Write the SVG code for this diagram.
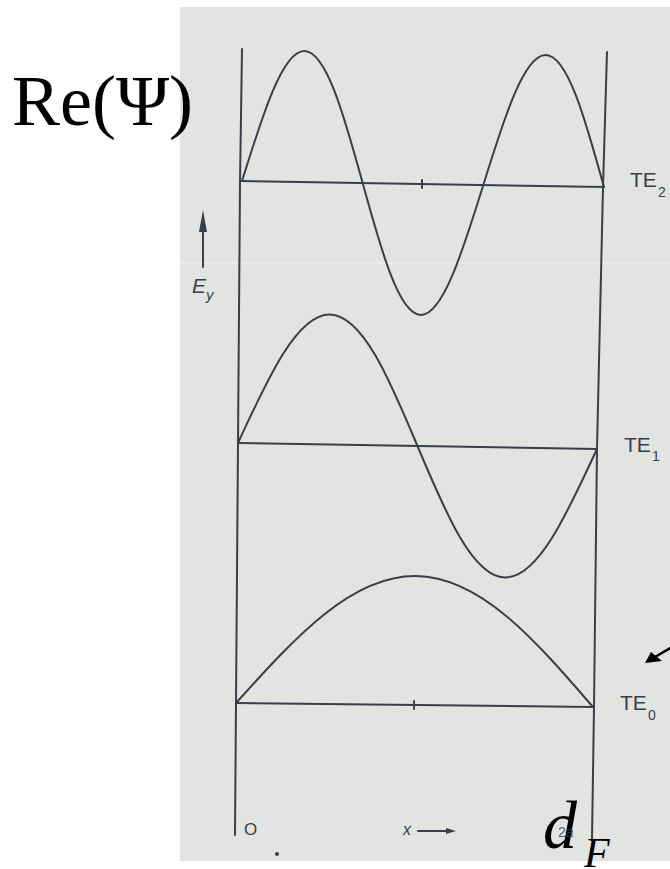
<svg xmlns="http://www.w3.org/2000/svg" width="670" height="869" viewBox="0 0 670 869">
<style>
.ln{fill:none;stroke:#3b3d48;stroke-width:2;stroke-linecap:round;stroke-linejoin:round}
.lb{font-family:"Liberation Sans",Arial,sans-serif;fill:#3b3d48}
.tm{font-family:"Liberation Serif","Times New Roman",serif;fill:#000}
</style>
<rect width="670" height="869" fill="#ffffff"/>
<rect x="180" y="7" width="490" height="854" fill="#e2e4e1"/>
<line x1="180" y1="263" x2="670" y2="263" stroke="#f3f4f2" stroke-width="1"/>
<g id="walls">
<polyline class="ln" points="242,49 240,183 238,443 236,703 235,835"/>
<polyline class="ln" points="607,52 603,187 597,449 594,707 592,840"/>
</g>
<g id="te2">
<line class="ln" x1="242" y1="181" x2="604" y2="187"/>
<line class="ln" x1="422" y1="180" x2="422" y2="188"/>
<path class="ln" transform="translate(242,181) rotate(0.95)" d="M0,0 C19.67,-67.11 38.5,-131 60.33,-131 C82.16,-131 101,-67.11 120.67,0 C140.34,67.11 159.17,131 181,131 C202.83,131 221.67,67.11 241.33,0 C261,-67.11 279.84,-131 301.67,-131 C323.5,-131 342.33,-67.11 362,0"/>
<text class="lb" x="630" y="187" font-size="21">TE<tspan font-size="14" x="658" y="197">2</tspan></text>
</g>
<g id="te1">
<line class="ln" x1="238" y1="443" x2="597" y2="449"/>
<path class="ln" transform="translate(238,443) rotate(0.96)" d="M0,0 C29.27,-66.6 57.27,-130 89.75,-130 C122.23,-130 150.23,-66.6 179.5,0 C208.77,66.6 236.77,130 269.25,130 C301.73,130 329.73,66.6 359,0"/>
<text class="lb" x="624" y="452" font-size="21">TE<tspan font-size="14" x="652" y="461">1</tspan></text>
</g>
<g id="te0">
<line class="ln" x1="236" y1="703" x2="593" y2="707"/>
<line class="ln" x1="414" y1="701" x2="414" y2="709"/>
<path class="ln" transform="translate(236,703) rotate(0.64)" d="M0,0 C58.21,-66.09 113.9,-129 178.5,-129 C243.1,-129 298.79,-66.09 357,0"/>
<text class="lb" x="620" y="710" font-size="21">TE<tspan font-size="14" x="648" y="720">0</tspan></text>
</g>
<g id="axis-ey">
<line class="ln" x1="203" y1="267" x2="203" y2="225"/>
<polygon points="203,210 199,232 207,232" fill="#3b3d48"/>
<text class="lb" x="192" y="293" font-size="21" font-style="italic">E<tspan font-size="15" x="206" y="300">y</tspan></text>
</g>
<g id="axis-x">
<text class="lb" x="244" y="835" font-size="17">O</text>
<text class="lb" x="403" y="835" font-size="16" font-style="italic">x</text>
<line class="ln" x1="418" y1="831" x2="448" y2="831" stroke-width="1.6"/>
<polygon points="456,831 446,828 446,834" fill="#3b3d48"/>
<circle cx="277" cy="854" r="2" fill="#3b3d48"/>
</g>
<g id="overlay">
<text class="tm" x="12" y="125" font-size="72">Re(Ψ)</text>
<line x1="672" y1="647" x2="655" y2="657" stroke="#000" stroke-width="2.5"/>
<polygon points="645,663 651,652 662,661" fill="#000"/>
<text class="tm" x="543" y="848" font-size="68" font-style="italic">d</text>
<text class="lb" x="558" y="837" font-size="14" fill="#8a92a2" opacity="0.8">2<tspan font-style="italic">a</tspan></text>
<text class="tm" x="584" y="867" font-size="42" font-style="italic">F</text>
</g>
</svg>
